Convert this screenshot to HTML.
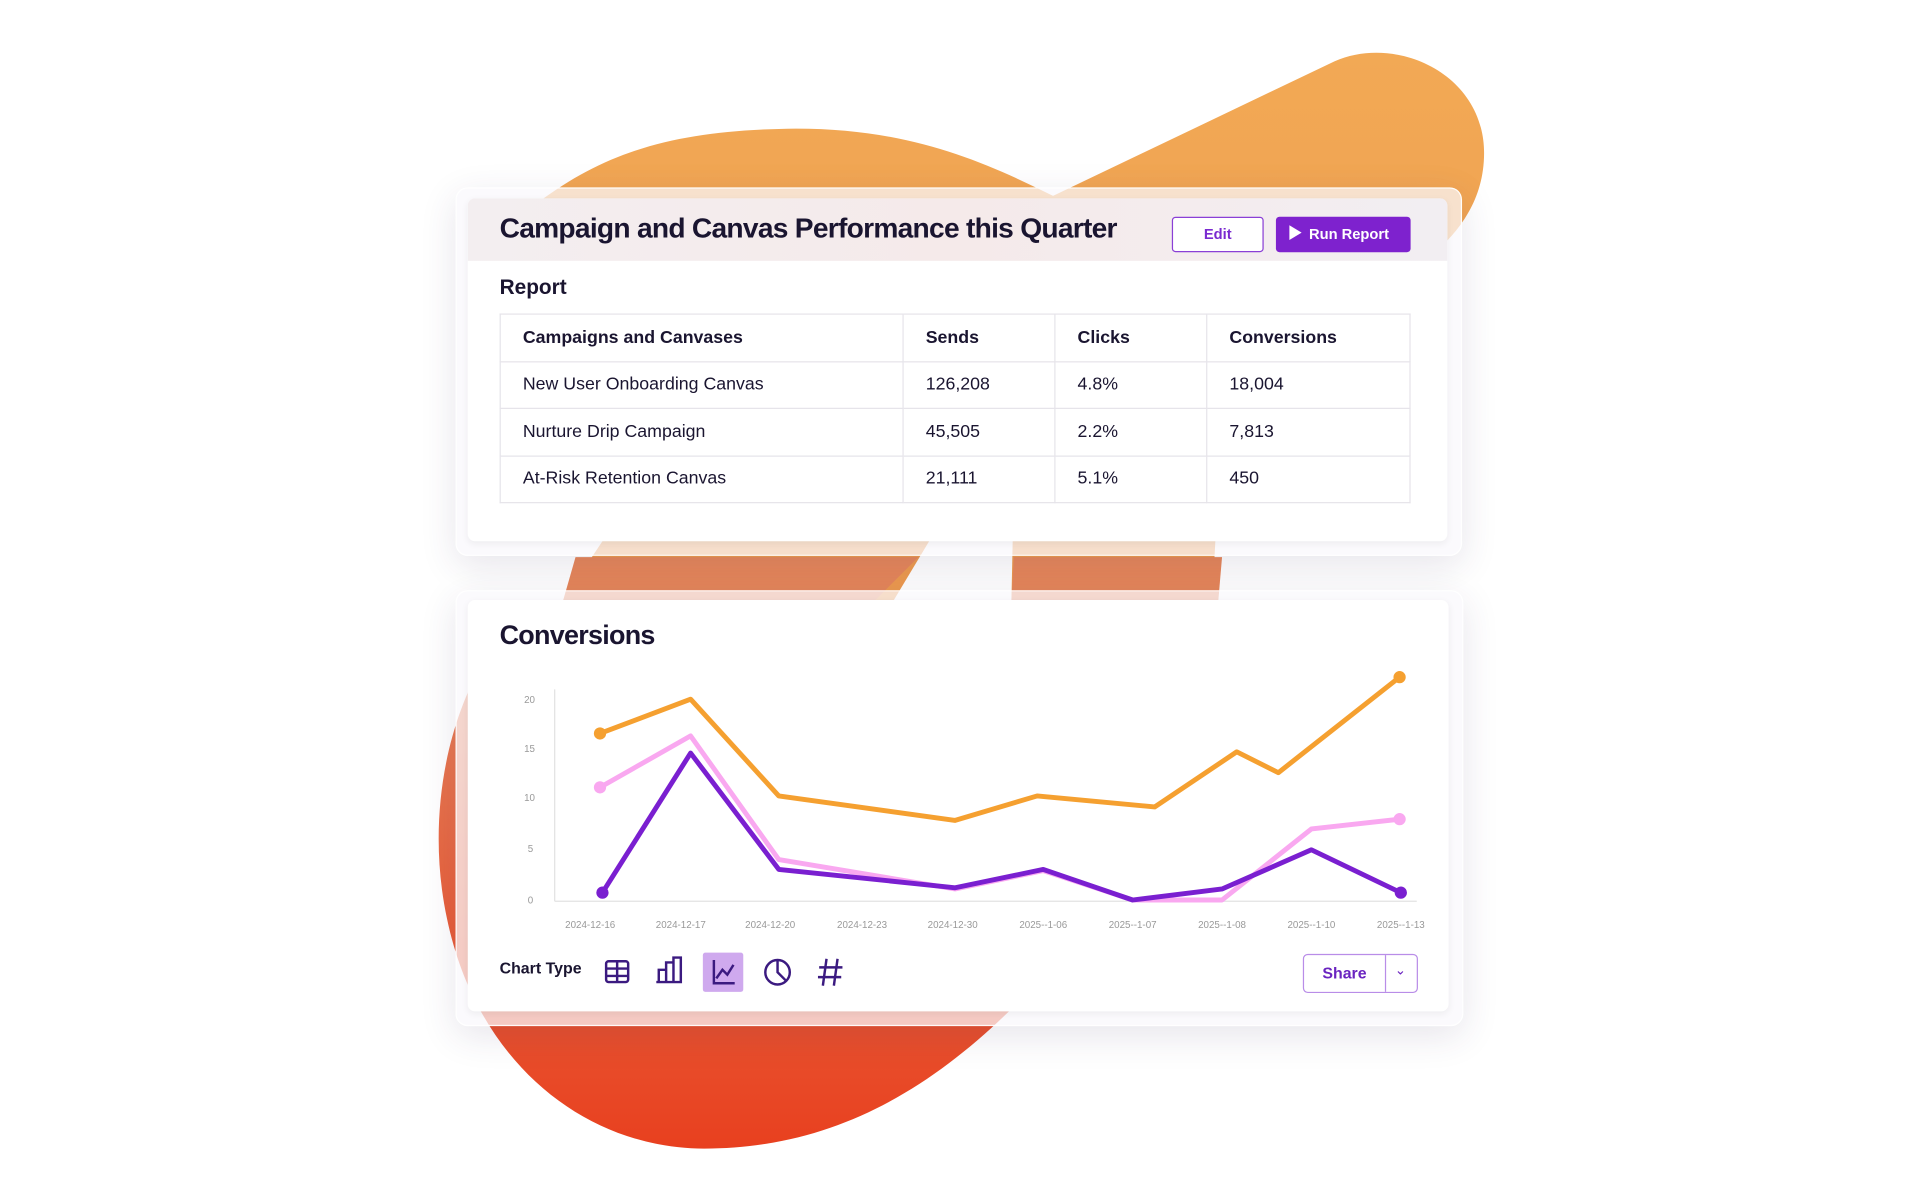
<!DOCTYPE html>
<html><head><meta charset="utf-8"><style>
html,body{margin:0;padding:0;background:#fff;width:1920px;height:1200px;overflow:hidden}
#w{position:absolute;left:0;top:0;width:1568px;height:980px;transform:scale(1.22449);transform-origin:0 0;font-family:"Liberation Sans",sans-serif;color:#1a1530}
.outer{position:absolute;background:rgba(250,248,252,0.72);border-radius:10px;box-shadow:0 8px 30px rgba(60,40,90,0.12);border:1px solid rgba(255,255,255,0.9)}
.inner{position:absolute;background:#fff;border-radius:6px;box-shadow:0 2px 6px rgba(0,0,0,0.06)}
table{border-collapse:collapse;position:absolute;left:408px;top:256px;width:744px;font-size:14.5px}
td{border:1px solid #e6e4ea;height:37.5px;padding:0 0 0 18px}
th{border:1px solid #e6e4ea;height:37.5px;padding:0 0 0 18px;text-align:left;font-size:14.5px}
.ab{position:absolute}
</style></head><body><div id="w">
<svg class="ab" style="left:0;top:0" width="1568" height="980">
<defs><linearGradient id="g1" x1="0" y1="0" x2="0" y2="1"><stop offset="0" stop-color="#f2a955"/><stop offset="1" stop-color="#ed9a4e"/></linearGradient>
<linearGradient id="g2" x1="0" y1="0" x2="0" y2="1"><stop offset="0" stop-color="#e7825a"/><stop offset="1" stop-color="#e8401f"/></linearGradient></defs>
<path d="M440 165 C500 120 560 106 650 105 C740 105 800 130 860 160 L1090 50 C1140 28 1212 60 1212 125 C1212 180 1170 210 1140 230 L1000 300 L990 490 L826 490 L830 300 L760 440 L730 490 L460 490 L520 400 Z" fill="url(#g1)"/>
<path d="M470 455 L750 455 L715 490 L460 490 Z" fill="#e6875a"/>
<path d="M828 455 L998 455 L995 490 L826 490 Z" fill="#e6875a"/>
<path d="M395 540 C360 600 350 680 365 750 C390 870 480 938 575 938 C680 938 760 890 830 820 L830 560 Z" fill="url(#g2)"/>
</svg>
<div class="outer" style="left:372px;top:153px;width:820px;height:299px"></div>
<div class="inner" style="left:382px;top:162px;width:800px;height:280px;overflow:hidden">
<div style="position:absolute;left:0;top:0;width:800px;height:51px;background:linear-gradient(90deg,#f3eef0,#f5eaea 50%,#f2eef2)"></div></div>
<div class="ab" style="left:408px;top:173px;font-size:23px;font-weight:bold;letter-spacing:-0.6px">Campaign and Canvas Performance this Quarter</div>
<div class="ab" style="left:957px;top:177px;width:73px;height:27px;border:1.5px solid #8a3fd6;border-radius:3px;background:#fff;color:#7a2bd0;font-size:12px;font-weight:bold;text-align:center;line-height:27px">Edit</div>
<div class="ab" style="left:1042px;top:177px;width:110px;height:29px;background:#7e22ce;border-radius:3px;color:#fff;font-size:12px;font-weight:bold;line-height:29px"><span style="display:inline-block;margin:0 6px 0 11px;width:0;height:0;border-left:10px solid #fff;border-top:6px solid transparent;border-bottom:6px solid transparent;vertical-align:-1px"></span>Run Report</div>
<div class="ab" style="left:408px;top:225px;font-size:17px;font-weight:bold">Report</div>
<table><tr><th style="width:310px">Campaigns and Canvases</th><th style="width:105px">Sends</th><th style="width:105px">Clicks</th><th>Conversions</th></tr>
<tr><td>New User Onboarding Canvas</td><td>126,208</td><td>4.8%</td><td>18,004</td></tr>
<tr><td>Nurture Drip Campaign</td><td>45,505</td><td>2.2%</td><td>7,813</td></tr>
<tr><td>At-Risk Retention Canvas</td><td>21,111</td><td>5.1%</td><td>450</td></tr></table>
<div class="outer" style="left:372px;top:482px;width:821px;height:354px"></div>
<div class="inner" style="left:382px;top:490px;width:801px;height:336px"></div>
<div class="ab" style="left:408px;top:506px;font-size:22px;font-weight:bold;letter-spacing:-0.6px">Conversions</div>
<svg class="ab" style="left:0;top:0" width="1568" height="980" font-family="Liberation Sans" font-size="8" fill="#999">
<line x1="453" y1="563" x2="453" y2="736" stroke="#e2e2e2"/>
<line x1="453" y1="736" x2="1157" y2="736" stroke="#e2e2e2"/>
<text x="428" y="574">20</text><text x="428" y="614">15</text><text x="428" y="654">10</text><text x="431" y="696">5</text><text x="431" y="738">0</text>
<g text-anchor="middle"><text x="482" y="758">2024-12-16</text><text x="556" y="758">2024-12-17</text><text x="629" y="758">2024-12-20</text><text x="704" y="758">2024-12-23</text><text x="778" y="758">2024-12-30</text><text x="852" y="758">2025--1-06</text><text x="925" y="758">2025--1-07</text><text x="998" y="758">2025--1-08</text><text x="1071" y="758">2025--1-10</text><text x="1144" y="758">2025--1-13</text></g>
<g fill="none" stroke-width="4" stroke-linejoin="round">
<polyline stroke="#f5a030" points="490,599 564,571 636,650 780,670 847,650 943,659 1010,614 1044,631 1143,553"/>
<polyline stroke="#f9a8f0" points="490,643 564,601 636,702 780,726 852,711 925,735 998,735 1071,677 1143,669"/>
<polyline stroke="#7a1fd0" points="492,729 564,615 636,710 780,725 852,710 925,735 998,726 1071,694 1144,729"/>
</g>
<circle cx="490" cy="599" r="5" fill="#f5a030"/><circle cx="1143" cy="553" r="5" fill="#f5a030"/>
<circle cx="490" cy="643" r="5" fill="#f9a8f0"/><circle cx="1143" cy="669" r="5" fill="#f9a8f0"/>
<circle cx="492" cy="729" r="5" fill="#7a1fd0"/><circle cx="1144" cy="729" r="5" fill="#7a1fd0"/>
<rect x="574" y="778" width="33" height="32" rx="2" fill="#cfa9ee"/>
<g fill="none" stroke="#3b1a80" stroke-width="2">
<rect x="495" y="785" width="18" height="17" rx="2"/><line x1="495" y1="791" x2="513" y2="791"/><line x1="495" y1="797" x2="513" y2="797"/><line x1="504" y1="785" x2="504" y2="802"/>
<path d="M538 802 V792 H544 V786 H550 V782 H556 V802 H536 M544 792 V802 M550 786 V802"/>
<path d="M583 784 V803 H600 M585 799 L590 792 L594 796 L599 788"/>
<circle cx="635" cy="794" r="10"/><path d="M635 784 V794 L642 801"/>
<path d="M675 783 L672 805 M684 783 L681 805 M669 790 H688 M668 798 H687"/>
</g>
</svg>
<div class="ab" style="left:408px;top:783px;font-size:13px;font-weight:bold">Chart Type</div>
<div class="ab" style="left:1064px;top:779px;width:92px;height:30px;border:1.5px solid #b98de8;border-radius:4px;background:#fff"></div>
<div class="ab" style="left:1131px;top:780px;width:1px;height:30px;background:#b98de8"></div>
<div class="ab" style="left:1064px;top:787px;width:68px;text-align:center;font-size:13px;font-weight:bold;color:#6a24c0">Share</div>
<div class="ab" style="left:1139px;top:786px;font-size:11px;color:#6a24c0">&#8964;</div>
</div></body></html>
